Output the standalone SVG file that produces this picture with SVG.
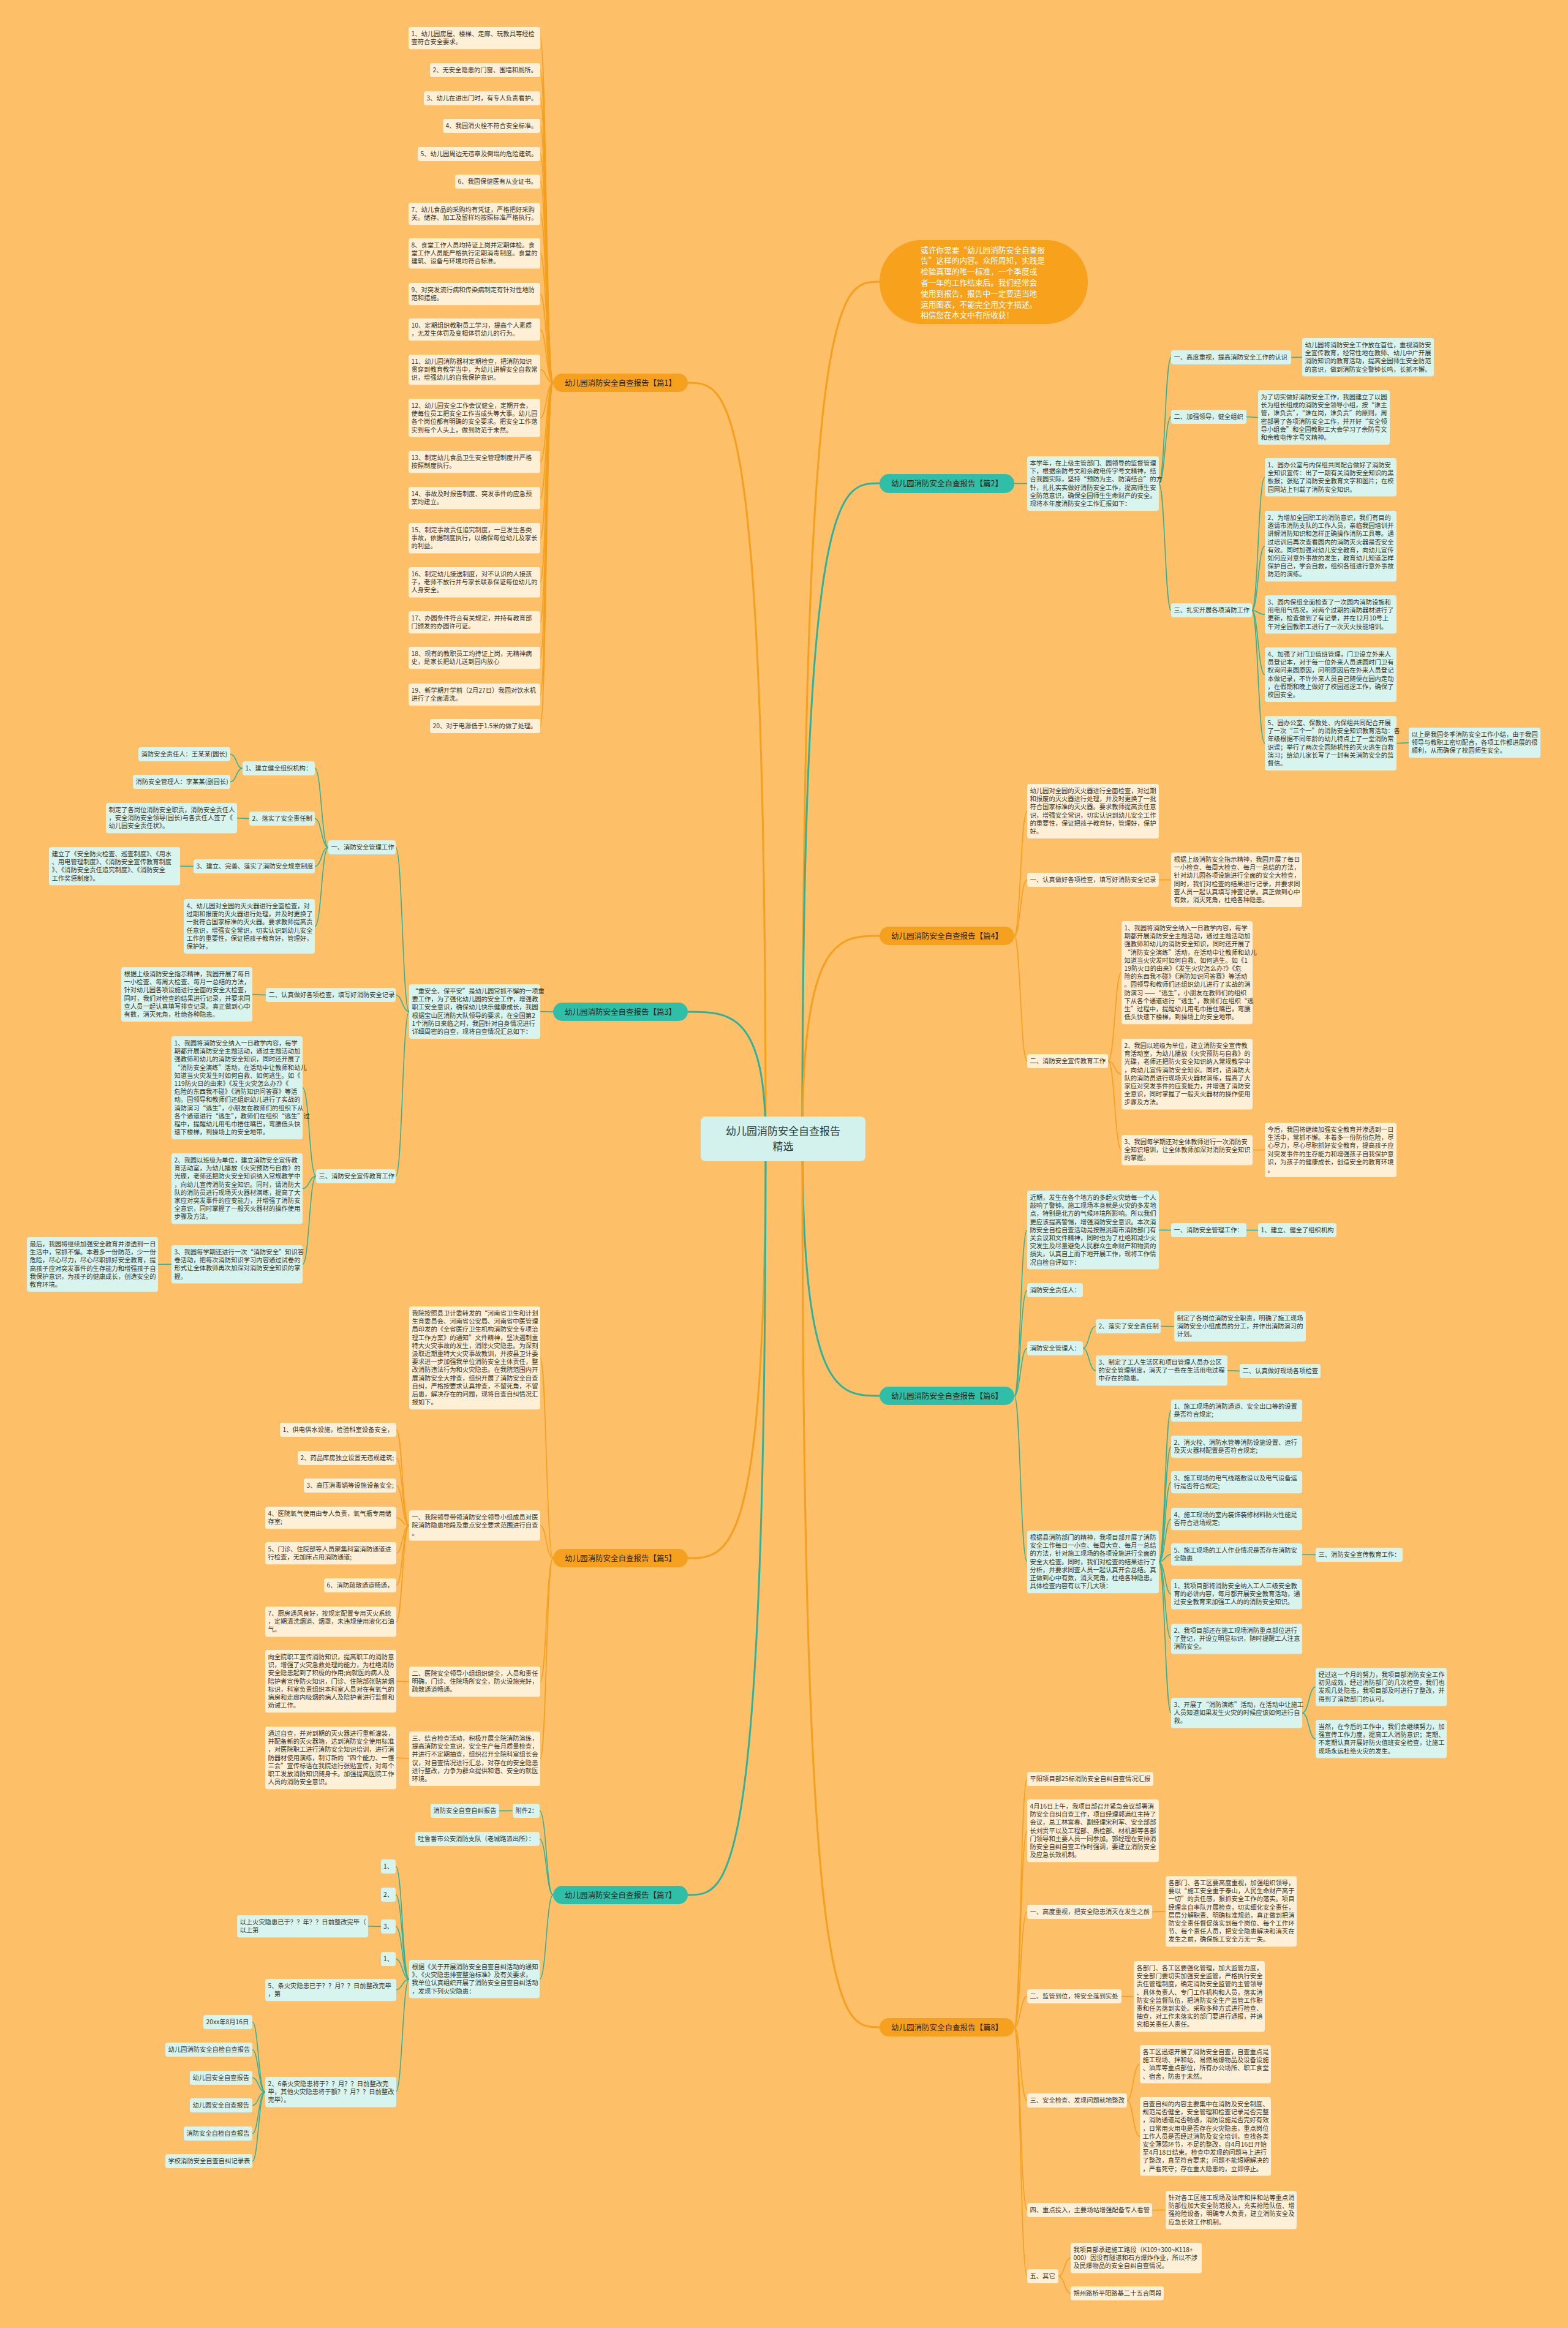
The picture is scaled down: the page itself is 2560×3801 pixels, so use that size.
<svg xmlns="http://www.w3.org/2000/svg" width="2560" height="3801" viewBox="0 0 2560 3801">
<style>
.t{font-family:"Noto Sans CJK SC","Noto Sans",sans-serif;font-size:10.3px;fill:#3b3327}
.lc{fill:#fdf0d6}
.lt{fill:#d8f4ef}
.po{fill:#f5a11f}
.pt{fill:#2fbfa8}
.pl{font-family:"Noto Sans CJK SC","Noto Sans",sans-serif;font-size:12.5px;fill:#2b2417;text-anchor:middle}
.co{fill:none;stroke:#f59f1c;stroke-width:1.6}
.ct{fill:none;stroke:#2db39c;stroke-width:1.6}
.mo{fill:none;stroke:#f59f1c;stroke-width:3}
.mt{fill:none;stroke:#2db39c;stroke-width:3}
</style>
<rect width="2560" height="3801" fill="#febf69"/>
<g id="connectors">
<!-- main -->
<path class="mo" d="M1250 1860 C1250 625,1190 625,1123 625"/>
<path class="mt" d="M1250 1860 C1250 1652,1190 1652,1123 1652"/>
<path class="mo" d="M1250 1860 C1250 2544,1190 2544,1123 2544"/>
<path class="mt" d="M1250 1860 C1250 3094,1190 3094,1123 3094"/>
<path class="mo" d="M1310 1860 C1310 460,1370 460,1436 460"/>
<path class="mt" d="M1310 1860 C1310 789,1370 789,1436 789"/>
<path class="mo" d="M1310 1860 C1310 1528,1370 1528,1436 1528"/>
<path class="mt" d="M1310 1860 C1310 2279,1370 2279,1436 2279"/>
<path class="mo" d="M1310 1860 C1310 3310,1370 3310,1436 3310"/>
<!-- p1 -->
<path class="co" d="M903 625 C892 625,892 62,882 62"/>
<path class="co" d="M903 625 C892 625,892 114.5,882 114.5"/>
<path class="co" d="M903 625 C892 625,892 160.5,882 160.5"/>
<path class="co" d="M903 625 C892 625,892 205.5,882 205.5"/>
<path class="co" d="M903 625 C892 625,892 251.5,882 251.5"/>
<path class="co" d="M903 625 C892 625,892 296.5,882 296.5"/>
<path class="co" d="M903 625 C892 625,892 349,882 349"/>
<path class="co" d="M903 625 C892 625,892 413.7,882 413.7"/>
<path class="co" d="M903 625 C892 625,892 480,882 480"/>
<path class="co" d="M903 625 C892 625,892 538,882 538"/>
<path class="co" d="M903 625 C892 625,892 603.7,882 603.7"/>
<path class="co" d="M903 625 C892 625,892 682.3,882 682.3"/>
<path class="co" d="M903 625 C892 625,892 754,882 754"/>
<path class="co" d="M903 625 C892 625,892 813,882 813"/>
<path class="co" d="M903 625 C892 625,892 878.7,882 878.7"/>
<path class="co" d="M903 625 C892 625,892 950.7,882 950.7"/>
<path class="co" d="M903 625 C892 625,892 1016,882 1016"/>
<path class="co" d="M903 625 C892 625,892 1074,882 1074"/>
<path class="co" d="M903 625 C892 625,892 1134,882 1134"/>
<path class="co" d="M903 625 C892 625,892 1185.5,882 1185.5"/>
<!-- p3 -->
<path class="ct" d="M903 1652 C892 1652,892 1651.5,882 1651.5"/>
<path class="ct" d="M668 1651.5 C657 1651.5,657 1383.5,646 1383.5"/>
<path class="ct" d="M668 1651.5 C657 1651.5,657 1624.5,646 1624.5"/>
<path class="ct" d="M668 1651.5 C657 1651.5,657 1920.5,646 1920.5"/>
<path class="ct" d="M536 1383.5 C525 1383.5,525 1254.5,514 1254.5"/>
<path class="ct" d="M536 1383.5 C525 1383.5,525 1336.5,514 1336.5"/>
<path class="ct" d="M536 1383.5 C525 1383.5,525 1414.5,514 1414.5"/>
<path class="ct" d="M536 1383.5 C525 1383.5,525 1512.5,514 1512.5"/>
<path class="ct" d="M396 1254.5 C386 1254.5,386 1231.5,376 1231.5"/>
<path class="ct" d="M396 1254.5 C386 1254.5,386 1276.5,376 1276.5"/>
<path class="ct" d="M407 1336.5 C397 1336.5,397 1335.7,387 1335.7"/>
<path class="ct" d="M316 1414.5 C305 1414.5,305 1414.3,294 1414.3"/>
<path class="ct" d="M434 1624.5 C423 1624.5,423 1623.5,412 1623.5"/>
<path class="ct" d="M516 1920.5 C505 1920.5,505 1776,494 1776"/>
<path class="ct" d="M516 1920.5 C505 1920.5,505 1940.7,494 1940.7"/>
<path class="ct" d="M516 1920.5 C505 1920.5,505 2064.3,494 2064.3"/>
<path class="ct" d="M280 2064.3 C269 2064.3,269 2064.5,258 2064.5"/>
<!-- p5 -->
<path class="co" d="M903 2544 C892 2544,892 2217,882 2217"/>
<path class="co" d="M903 2544 C892 2544,892 2490.7,882 2490.7"/>
<path class="co" d="M903 2544 C892 2544,892 2745.7,882 2745.7"/>
<path class="co" d="M903 2544 C892 2544,892 2871.5,882 2871.5"/>
<path class="co" d="M668 2490.7 C657 2490.7,657 2334.5,647 2334.5"/>
<path class="co" d="M668 2490.7 C657 2490.7,657 2380.5,647 2380.5"/>
<path class="co" d="M668 2490.7 C657 2490.7,657 2425.5,647 2425.5"/>
<path class="co" d="M668 2490.7 C657 2490.7,657 2478,647 2478"/>
<path class="co" d="M668 2490.7 C657 2490.7,657 2536,647 2536"/>
<path class="co" d="M668 2490.7 C657 2490.7,657 2588.5,647 2588.5"/>
<path class="co" d="M668 2490.7 C657 2490.7,657 2647.7,647 2647.7"/>
<path class="co" d="M668 2745.7 C657 2745.7,657 2745,647 2745"/>
<path class="co" d="M668 2871.5 C657 2871.5,657 2870,647 2870"/>
<!-- p7 -->
<path class="ct" d="M903 3094 C892 3094,892 2956.5,881 2956.5"/>
<path class="ct" d="M903 3094 C892 3094,892 3002.5,881 3002.5"/>
<path class="ct" d="M903 3094 C892 3094,892 3231.3,881 3231.3"/>
<path class="ct" d="M837 2956.5 C826 2956.5,826 2956.5,815 2956.5"/>
<path class="ct" d="M668 3231.3 C657 3231.3,657 3047.5,646 3047.5"/>
<path class="ct" d="M668 3231.3 C657 3231.3,657 3093.5,646 3093.5"/>
<path class="ct" d="M668 3231.3 C657 3231.3,657 3145.5,646 3145.5"/>
<path class="ct" d="M668 3231.3 C657 3231.3,657 3198.5,646 3198.5"/>
<path class="ct" d="M668 3231.3 C657 3231.3,657 3249,646 3249"/>
<path class="ct" d="M668 3231.3 C657 3231.3,657 3415.7,646 3415.7"/>
<path class="ct" d="M622 3145.5 C611 3145.5,611 3145,601 3145"/>
<path class="ct" d="M433 3415.7 C422 3415.7,422 3301.5,412 3301.5"/>
<path class="ct" d="M433 3415.7 C422 3415.7,422 3346.5,412 3346.5"/>
<path class="ct" d="M433 3415.7 C422 3415.7,422 3392.5,412 3392.5"/>
<path class="ct" d="M433 3415.7 C422 3415.7,422 3437.5,412 3437.5"/>
<path class="ct" d="M433 3415.7 C422 3415.7,422 3483.5,412 3483.5"/>
<path class="ct" d="M433 3415.7 C422 3415.7,422 3528.5,412 3528.5"/>
<!-- p2 -->
<path class="ct" d="M1656 789.5 C1666 789.5,1666 789.5,1677 789.5"/>
<path class="ct" d="M1892 789.5 C1902 789.5,1902 583.5,1912 583.5"/>
<path class="ct" d="M1892 789.5 C1902 789.5,1902 680.5,1912 680.5"/>
<path class="ct" d="M1892 789.5 C1902 789.5,1902 996.5,1912 996.5"/>
<path class="ct" d="M2108 583.5 C2117 583.5,2117 583.3,2126 583.3"/>
<path class="ct" d="M2035 680.5 C2044 680.5,2044 681.5,2054 681.5"/>
<path class="ct" d="M2044 996.5 C2054 996.5,2054 779.3,2065 779.3"/>
<path class="ct" d="M2044 996.5 C2054 996.5,2054 891.7,2065 891.7"/>
<path class="ct" d="M2044 996.5 C2054 996.5,2054 1003.3,2065 1003.3"/>
<path class="ct" d="M2044 996.5 C2054 996.5,2054 1101.5,2065 1101.5"/>
<path class="ct" d="M2044 996.5 C2054 996.5,2054 1213.5,2065 1213.5"/>
<path class="ct" d="M2280 1213.5 C2290 1213.5,2290 1212.7,2300 1212.7"/>
<!-- p4 -->
<path class="co" d="M1656 1528 C1666 1528,1666 1324.5,1677 1324.5"/>
<path class="co" d="M1656 1528 C1666 1528,1666 1436.5,1677 1436.5"/>
<path class="co" d="M1656 1528 C1666 1528,1666 1732.5,1677 1732.5"/>
<path class="co" d="M1892 1436.5 C1902 1436.5,1902 1436.5,1912 1436.5"/>
<path class="co" d="M1809 1732.5 C1820 1732.5,1820 1588,1831 1588"/>
<path class="co" d="M1809 1732.5 C1820 1732.5,1820 1753.7,1831 1753.7"/>
<path class="co" d="M1809 1732.5 C1820 1732.5,1820 1877.7,1831 1877.7"/>
<path class="co" d="M2045 1877.7 C2055 1877.7,2055 1877.5,2065 1877.5"/>
<!-- p6 -->
<path class="ct" d="M1656 2279 C1666 2279,1666 2008.3,1677 2008.3"/>
<path class="ct" d="M1656 2279 C1666 2279,1666 2106.5,1677 2106.5"/>
<path class="ct" d="M1656 2279 C1666 2279,1666 2201.5,1677 2201.5"/>
<path class="ct" d="M1656 2279 C1666 2279,1666 2550,1677 2550"/>
<path class="ct" d="M1892 2008.3 C1902 2008.3,1902 2008.5,1912 2008.5"/>
<path class="ct" d="M2035 2008.5 C2044 2008.5,2044 2008.5,2054 2008.5"/>
<path class="ct" d="M1768 2201.5 C1778 2201.5,1778 2165.5,1789 2165.5"/>
<path class="ct" d="M1768 2201.5 C1778 2201.5,1778 2237.7,1789 2237.7"/>
<path class="ct" d="M1895 2165.5 C1906 2165.5,1906 2165.7,1917 2165.7"/>
<path class="ct" d="M2004 2237.7 C2014 2237.7,2014 2238.5,2024 2238.5"/>
<path class="ct" d="M1892 2550 C1902 2550,1902 2303,1912 2303"/>
<path class="ct" d="M1892 2550 C1902 2550,1902 2362,1912 2362"/>
<path class="ct" d="M1892 2550 C1902 2550,1902 2420,1912 2420"/>
<path class="ct" d="M1892 2550 C1902 2550,1902 2480,1912 2480"/>
<path class="ct" d="M1892 2550 C1902 2550,1902 2538,1912 2538"/>
<path class="ct" d="M1892 2550 C1902 2550,1902 2602.7,1912 2602.7"/>
<path class="ct" d="M1892 2550 C1902 2550,1902 2675.7,1912 2675.7"/>
<path class="ct" d="M1892 2550 C1902 2550,1902 2796.7,1912 2796.7"/>
<path class="ct" d="M2126 2538 C2137 2538,2137 2538.5,2148 2538.5"/>
<path class="ct" d="M2126 2796.7 C2137 2796.7,2137 2754.3,2148 2754.3"/>
<path class="ct" d="M2126 2796.7 C2137 2796.7,2137 2839.3,2148 2839.3"/>
<!-- p8 -->
<path class="co" d="M1656 3310 C1666 3310,1666 2904.5,1677 2904.5"/>
<path class="co" d="M1656 3310 C1666 3310,1666 2989,1677 2989"/>
<path class="co" d="M1656 3310 C1666 3310,1666 3121.5,1677 3121.5"/>
<path class="co" d="M1656 3310 C1666 3310,1666 3259.5,1677 3259.5"/>
<path class="co" d="M1656 3310 C1666 3310,1666 3429.5,1677 3429.5"/>
<path class="co" d="M1656 3310 C1666 3310,1666 3608.5,1677 3608.5"/>
<path class="co" d="M1656 3310 C1666 3310,1666 3716.5,1677 3716.5"/>
<path class="co" d="M1881 3121.5 C1892 3121.5,1892 3120.7,1903 3120.7"/>
<path class="co" d="M1831 3259.5 C1841 3259.5,1841 3259.7,1851 3259.7"/>
<path class="co" d="M1840 3429.5 C1850 3429.5,1850 3370.3,1861 3370.3"/>
<path class="co" d="M1840 3429.5 C1850 3429.5,1850 3488.3,1861 3488.3"/>
<path class="co" d="M1881 3608.5 C1892 3608.5,1892 3608.3,1903 3608.3"/>
<path class="co" d="M1728 3716.5 C1738 3716.5,1738 3686.7,1748 3686.7"/>
<path class="co" d="M1728 3716.5 C1738 3716.5,1738 3744.5,1748 3744.5"/>
</g>

<g id="center"><rect x="1144" y="1823" width="269" height="73" rx="8" fill="#d3f2ee"/>
<text x="1278.5" y="1853" font-family="Noto Sans CJK SC,sans-serif" font-size="17" fill="#2b3a38" text-anchor="middle">幼儿园消防安全自查报告</text>
<text x="1278.5" y="1878" font-family="Noto Sans CJK SC,sans-serif" font-size="17" fill="#2b3a38" text-anchor="middle">精选</text></g>

<!-- ===== 篇1 ===== -->
<g id="p1"><rect class="po" x="903" y="610" width="220" height="30" rx="15"/><text class="pl" x="1013" y="629.5">幼儿园消防安全自查报告【篇1】</text></g>
<g id="p1-1"><rect class="lc" x="667" y="44" width="215" height="36.2" rx="4"/><text class="t" y="59"><tspan x="671.5">1、幼儿园房屋、楼梯、走廊、玩教具等经检</tspan><tspan x="671.5" dy="13.2">查符合安全要求。</tspan></text></g>
<g id="p1-2"><rect class="lc" x="702" y="103" width="180" height="23" rx="4"/><text class="t" x="706.5" y="118.3">2、无安全隐患的门窗、围墙和厕所。</text></g>
<g id="p1-3"><rect class="lc" x="692" y="149" width="190" height="23" rx="4"/><text class="t" x="696.5" y="164.3">3、幼儿在进出门时，有专人负责看护。</text></g>
<g id="p1-4"><rect class="lc" x="723" y="194" width="159" height="23" rx="4"/><text class="t" x="727.5" y="209.3">4、我园消火栓不符合安全标准。</text></g>
<g id="p1-5"><rect class="lc" x="682" y="240" width="200" height="23" rx="4"/><text class="t" x="686.5" y="255.3">5、幼儿园周边无违章及倒塌的危险建筑。</text></g>
<g id="p1-6"><rect class="lc" x="743" y="285" width="139" height="23" rx="4"/><text class="t" x="747.5" y="300.3">6、我园保健医有从业证书。</text></g>
<g id="p1-7"><rect class="lc" x="667" y="331" width="215" height="36.2" rx="4"/><text class="t" y="346"><tspan x="671.5">7、幼儿食品的采购均有凭证，严格把好采购</tspan><tspan x="671.5" dy="13.2">关。储存、加工及留样均按照标准严格执行。</tspan></text></g>
<g id="p1-8"><rect class="lc" x="667" y="389" width="215" height="49.4" rx="4"/><text class="t" y="404"><tspan x="671.5">8、食堂工作人员均持证上岗并定期体检。食</tspan><tspan x="671.5" dy="13.2">堂工作人员能严格执行定期消毒制度。食堂的</tspan><tspan x="671.5" dy="13.2">建筑、设备与环境均符合标准。</tspan></text></g>
<g id="p1-9"><rect class="lc" x="667" y="462" width="215" height="36.2" rx="4"/><text class="t" y="477"><tspan x="671.5">9、对突发流行病和传染病制定有针对性地防</tspan><tspan x="671.5" dy="13.2">范和措施。</tspan></text></g>
<g id="p1-10"><rect class="lc" x="667" y="520" width="215" height="36.2" rx="4"/><text class="t" y="535"><tspan x="671.5">10、定期组织教职员工学习，提高个人素质</tspan><tspan x="671.5" dy="13.2">，无发生体罚及变相体罚幼儿的行为。</tspan></text></g>
<g id="p1-11"><rect class="lc" x="667" y="579" width="215" height="49.4" rx="4"/><text class="t" y="594"><tspan x="671.5">11、幼儿园消防器材定期检查，把消防知识</tspan><tspan x="671.5" dy="13.2">贯穿到教育教学当中，为幼儿讲解安全自救常</tspan><tspan x="671.5" dy="13.2">识，增强幼儿的自我保护意识。</tspan></text></g>
<g id="p1-12"><rect class="lc" x="667" y="651" width="215" height="62.6" rx="4"/><text class="t" y="666"><tspan x="671.5">12、幼儿园安全工作会议健全，定期开会，</tspan><tspan x="671.5" dy="13.2">使每位员工把安全工作当成头等大事。幼儿园</tspan><tspan x="671.5" dy="13.2">各个岗位都有明确的安全要求。把安全工作落</tspan><tspan x="671.5" dy="13.2">实到每个人头上，做到防范于未然。</tspan></text></g>
<g id="p1-13"><rect class="lc" x="667" y="736" width="215" height="36.2" rx="4"/><text class="t" y="751"><tspan x="671.5">13、制定幼儿食品卫生安全管理制度并严格</tspan><tspan x="671.5" dy="13.2">按照制度执行。</tspan></text></g>
<g id="p1-14"><rect class="lc" x="667" y="795" width="215" height="36.2" rx="4"/><text class="t" y="810"><tspan x="671.5">14、事故及时报告制度、突发事件的应急预</tspan><tspan x="671.5" dy="13.2">案均建立。</tspan></text></g>
<g id="p1-15"><rect class="lc" x="667" y="854" width="215" height="49.4" rx="4"/><text class="t" y="869"><tspan x="671.5">15、制定事故责任追究制度，一旦发生各类</tspan><tspan x="671.5" dy="13.2">事故，依据制度执行，以确保每位幼儿及家长</tspan><tspan x="671.5" dy="13.2">的利益。</tspan></text></g>
<g id="p1-16"><rect class="lc" x="667" y="926" width="215" height="49.4" rx="4"/><text class="t" y="941"><tspan x="671.5">16、制定幼儿接送制度，对不认识的人接孩</tspan><tspan x="671.5" dy="13.2">子，老师不放行并与家长联系保证每位幼儿的</tspan><tspan x="671.5" dy="13.2">人身安全。</tspan></text></g>
<g id="p1-17"><rect class="lc" x="667" y="998" width="215" height="36.2" rx="4"/><text class="t" y="1013"><tspan x="671.5">17、办园条件符合有关规定，并持有教育部</tspan><tspan x="671.5" dy="13.2">门颁发的办园许可证。</tspan></text></g>
<g id="p1-18"><rect class="lc" x="667" y="1056" width="215" height="36.2" rx="4"/><text class="t" y="1071"><tspan x="671.5">18、现有的教职员工均持证上岗，无精神病</tspan><tspan x="671.5" dy="13.2">史，是家长把幼儿送到园内放心</tspan></text></g>
<g id="p1-19"><rect class="lc" x="667" y="1116" width="215" height="36.2" rx="4"/><text class="t" y="1131"><tspan x="671.5">19、新学期开学前（2月27日）我园对饮水机</tspan><tspan x="671.5" dy="13.2">进行了全面清洗。</tspan></text></g>
<g id="p1-20"><rect class="lc" x="702" y="1174" width="180" height="23" rx="4"/><text class="t" x="706.5" y="1189.3">20、对于电源低于1.5米的做了处理。</text></g>

<!-- ===== 篇3 ===== -->
<g id="p3"><rect class="pt" x="903" y="1637" width="220" height="30" rx="15"/><text class="pl" x="1013" y="1656.5">幼儿园消防安全自查报告【篇3】</text></g>
<g id="p3-intro"><rect class="lt" x="668" y="1607" width="214" height="89" rx="4"/><text class="t" y="1622"><tspan x="672.5">“重安全、保平安”是幼儿园常抓不懈的一项重</tspan><tspan x="672.5" dy="13.2">要工作，为了强化幼儿园的安全工作，增强教</tspan><tspan x="672.5" dy="13.2">职工安全意识，确保幼儿快乐健康成长，我园</tspan><tspan x="672.5" dy="13.2">根据宝山区消防大队领导的要求，在全国第2</tspan><tspan x="672.5" dy="13.2">1个消防日来临之时，我园针对自身情况进行</tspan><tspan x="672.5" dy="13.2">详细周密的自查，现将自查情况汇总如下：</tspan></text></g>
<g id="p3-s1"><rect class="lt" x="536" y="1372" width="110" height="23" rx="4"/><text class="t" x="540.5" y="1387.3">一、消防安全管理工作</text></g>
<g id="p3-s1-1"><rect class="lt" x="396" y="1243" width="118" height="23" rx="4"/><text class="t" x="400.5" y="1258.3">1、建立健全组织机构：</text></g>
<g id="p3-s1-1a"><rect class="lt" x="226" y="1220" width="150" height="23" rx="4"/><text class="t" x="230.5" y="1235.3">消防安全责任人：王某某(园长)</text></g>
<g id="p3-s1-1b"><rect class="lt" x="217" y="1265" width="159" height="23" rx="4"/><text class="t" x="221.5" y="1280.3">消防安全管理人：李某某(副园长)</text></g>
<g id="p3-s1-2"><rect class="lt" x="407" y="1325" width="107" height="23" rx="4"/><text class="t" x="411.5" y="1340.3">2、落实了安全责任制</text></g>
<g id="p3-s1-2a"><rect class="lt" x="173" y="1311" width="214" height="49.4" rx="4"/><text class="t" y="1326"><tspan x="177.5">制定了各岗位消防安全职责，消防安全责任人</tspan><tspan x="177.5" dy="13.2">，安全消防安全领导(园长)与各责任人签了《</tspan><tspan x="177.5" dy="13.2">幼儿园安全责任状》。</tspan></text></g>
<g id="p3-s1-3"><rect class="lt" x="316" y="1403" width="198" height="23" rx="4"/><text class="t" x="320.5" y="1418.3">3、建立、完善、落实了消防安全规章制度</text></g>
<g id="p3-s1-3a"><rect class="lt" x="80" y="1383" width="214" height="62.6" rx="4"/><text class="t" y="1398"><tspan x="84.5">建立了《安全防火检查、巡查制度》、《用水</tspan><tspan x="84.5" dy="13.2">、用电管理制度》、《消防安全宣传教育制度</tspan><tspan x="84.5" dy="13.2">》、《消防安全责任追究制度》、《消防安全</tspan><tspan x="84.5" dy="13.2">工作奖惩制度》。</tspan></text></g>
<g id="p3-s1-4"><rect class="lt" x="300" y="1468" width="214" height="89" rx="4"/><text class="t" y="1483"><tspan x="304.5">4、幼儿园对全园的灭火器进行全面检查，对</tspan><tspan x="304.5" dy="13.2">过期和报废的灭火器进行处理，并及时更换了</tspan><tspan x="304.5" dy="13.2">一批符合国家标准的灭火器。要求教师提高责</tspan><tspan x="304.5" dy="13.2">任意识，增强安全常识，切实认识到幼儿安全</tspan><tspan x="304.5" dy="13.2">工作的重要性，保证把孩子教育好，管理好，</tspan><tspan x="304.5" dy="13.2">保护好。</tspan></text></g>
<g id="p3-s2"><rect class="lt" x="434" y="1613" width="212" height="23" rx="4"/><text class="t" x="438.5" y="1628.3">二、认真做好各项检查，填写好消防安全记录</text></g>
<g id="p3-s2a"><rect class="lt" x="198" y="1579" width="214" height="89" rx="4"/><text class="t" y="1594"><tspan x="202.5">根据上级消防安全指示精神，我园开展了每日</tspan><tspan x="202.5" dy="13.2">一小检查、每周大检查、每月一总结的方法，</tspan><tspan x="202.5" dy="13.2">针对幼儿园各项设施进行全面的安全大检查，</tspan><tspan x="202.5" dy="13.2">同时，我们对检查的结果进行记录，并要求同</tspan><tspan x="202.5" dy="13.2">查人员一起认真填写排查记录。真正做到心中</tspan><tspan x="202.5" dy="13.2">有数，消灭死角，杜绝各种隐患。</tspan></text></g>
<g id="p3-s3"><rect class="lt" x="516" y="1909" width="130" height="23" rx="4"/><text class="t" x="520.5" y="1924.3">三、消防安全宣传教育工作</text></g>
<g id="p3-s3-1"><rect class="lt" x="280" y="1692" width="214" height="168.2" rx="4"/><text class="t" y="1707"><tspan x="284.5">1、我园将消防安全纳入一日教学内容，每学</tspan><tspan x="284.5" dy="13.2">期都开展消防安全主题活动，通过主题活动加</tspan><tspan x="284.5" dy="13.2">强教师和幼儿的消防安全知识，同时还开展了</tspan><tspan x="284.5" dy="13.2">“消防安全演练”活动，在活动中让教师和幼儿</tspan><tspan x="284.5" dy="13.2">知道当火灾发生时如何自救、如何逃生。如《</tspan><tspan x="284.5" dy="13.2">119防火日的由来》《发生火灾怎么办?》《</tspan><tspan x="284.5" dy="13.2">危险的东西我不碰》《消防知识问答赛》等活</tspan><tspan x="284.5" dy="13.2">动。园领导和教师们还组织幼儿进行了实战的</tspan><tspan x="284.5" dy="13.2">消防演习“逃生”，小朋友在教师们的组织下从</tspan><tspan x="284.5" dy="13.2">各个通道进行“逃生”，教师们在组织“逃生”过</tspan><tspan x="284.5" dy="13.2">程中，提醒幼儿用毛巾捂住嘴巴，弯腰低头快</tspan><tspan x="284.5" dy="13.2">速下楼梯，到操场上的安全地带。</tspan></text></g>
<g id="p3-s3-2"><rect class="lt" x="280" y="1883" width="214" height="115.4" rx="4"/><text class="t" y="1898"><tspan x="284.5">2、我园以班级为单位，建立消防安全宣传教</tspan><tspan x="284.5" dy="13.2">育活动室，为幼儿播放《火灾预防与自救》的</tspan><tspan x="284.5" dy="13.2">光碟，老师还把防火安全知识纳入常规教学中</tspan><tspan x="284.5" dy="13.2">，向幼儿宣传消防安全知识。同时，请消防大</tspan><tspan x="284.5" dy="13.2">队的消防员进行现场灭火器材演练，提高了大</tspan><tspan x="284.5" dy="13.2">家应对突发事件的应变能力，并增强了消防安</tspan><tspan x="284.5" dy="13.2">全意识，同时掌握了一般灭火器材的操作使用</tspan><tspan x="284.5" dy="13.2">步骤及方法。</tspan></text></g>
<g id="p3-s3-3"><rect class="lt" x="280" y="2033" width="214" height="62.6" rx="4"/><text class="t" y="2048"><tspan x="284.5">3、我园每学期还进行一次“消防安全”知识答</tspan><tspan x="284.5" dy="13.2">卷活动，把每次消防知识学习内容通过试卷的</tspan><tspan x="284.5" dy="13.2">形式让全体教师再次加深对消防安全知识的掌</tspan><tspan x="284.5" dy="13.2">握。</tspan></text></g>
<g id="p3-s3-3a"><rect class="lt" x="44" y="2020" width="214" height="89" rx="4"/><text class="t" y="2035"><tspan x="48.5">最后，我园将继续加强安全教育并渗透到一日</tspan><tspan x="48.5" dy="13.2">生活中，常抓不懈。本着多一份防范，少一份</tspan><tspan x="48.5" dy="13.2">危险，尽心尽力，尽心尽职抓好安全教育，提</tspan><tspan x="48.5" dy="13.2">高孩子应对突发事件的生存能力和增强孩子自</tspan><tspan x="48.5" dy="13.2">我保护意识，为孩子的健康成长，创造安全的</tspan><tspan x="48.5" dy="13.2">教育环境。</tspan></text></g>

<!-- ===== 篇5 ===== -->
<g id="p5"><rect class="po" x="903" y="2529" width="220" height="30" rx="15"/><text class="pl" x="1013" y="2548.5">幼儿园消防安全自查报告【篇5】</text></g>
<g id="p5-intro"><rect class="lc" x="668" y="2133" width="214" height="168.2" rx="4"/><text class="t" y="2148"><tspan x="672.5">我院按照县卫计委转发的“河南省卫生和计划</tspan><tspan x="672.5" dy="13.2">生育委员会、河南省公安局、河南省中医管理</tspan><tspan x="672.5" dy="13.2">局印发的《全省医疗卫生机构消防安全专项治</tspan><tspan x="672.5" dy="13.2">理工作方案》的通知”文件精神，坚决遏制重</tspan><tspan x="672.5" dy="13.2">特大火灾事故的发生，消除火灾隐患。为深刻</tspan><tspan x="672.5" dy="13.2">汲取近期重特大火灾事故教训，并按县卫计委</tspan><tspan x="672.5" dy="13.2">要求进一步加强我单位消防安全主体责任，整</tspan><tspan x="672.5" dy="13.2">改消防违法行为和火灾隐患。在我院范围内开</tspan><tspan x="672.5" dy="13.2">展消防安全大排查，组织开展了消防安全自查</tspan><tspan x="672.5" dy="13.2">自纠，严格按要求认真排查，不留死角，不留</tspan><tspan x="672.5" dy="13.2">后患，解决存在的问题，现将自查自纠情况汇</tspan><tspan x="672.5" dy="13.2">报如下。</tspan></text></g>
<g id="p5-s1"><rect class="lc" x="668" y="2466" width="214" height="49.4" rx="4"/><text class="t" y="2481"><tspan x="672.5">一、我院领导带领消防安全领导小组成员对医</tspan><tspan x="672.5" dy="13.2">院消防隐患地段及重点安全要求范围进行自查</tspan><tspan x="672.5" dy="13.2">。</tspan></text></g>
<g id="p5-s1-1"><rect class="lc" x="457" y="2323" width="190" height="23" rx="4"/><text class="t" x="461.5" y="2338.3">1、供电供水设施，检验科室设备安全，</text></g>
<g id="p5-s1-2"><rect class="lc" x="486" y="2369" width="161" height="23" rx="4"/><text class="t" x="490.5" y="2384.3">2、药品库房独立设置无违规建筑;</text></g>
<g id="p5-s1-3"><rect class="lc" x="496" y="2414" width="151" height="23" rx="4"/><text class="t" x="500.5" y="2429.3">3、高压消毒锅等设施设备安全;</text></g>
<g id="p5-s1-4"><rect class="lc" x="433" y="2460" width="214" height="36.2" rx="4"/><text class="t" y="2475"><tspan x="437.5">4、医院氧气使用由专人负责，氧气瓶专用储</tspan><tspan x="437.5" dy="13.2">存室;</tspan></text></g>
<g id="p5-s1-5"><rect class="lc" x="433" y="2518" width="214" height="36.2" rx="4"/><text class="t" y="2533"><tspan x="437.5">5、门诊、住院部等人员聚集科室消防通道进</tspan><tspan x="437.5" dy="13.2">行检查，无加床占用消防通道;</tspan></text></g>
<g id="p5-s1-6"><rect class="lc" x="529" y="2577" width="118" height="23" rx="4"/><text class="t" x="533.5" y="2592.3">6、消防疏散通道畅通，</text></g>
<g id="p5-s1-7"><rect class="lc" x="433" y="2623" width="214" height="49.4" rx="4"/><text class="t" y="2638"><tspan x="437.5">7、厨房通风良好，按规定配置专用灭火系统</tspan><tspan x="437.5" dy="13.2">，定期清洗烟道、烟罩，未违规使用液化石油</tspan><tspan x="437.5" dy="13.2">气。</tspan></text></g>
<g id="p5-s2"><rect class="lc" x="668" y="2721" width="214" height="49.4" rx="4"/><text class="t" y="2736"><tspan x="672.5">二、医院安全领导小组组织健全，人员和责任</tspan><tspan x="672.5" dy="13.2">明确，门诊、住院场所安全，防火设施完好，</tspan><tspan x="672.5" dy="13.2">疏散通道畅通。</tspan></text></g>
<g id="p5-s2a"><rect class="lc" x="433" y="2694" width="214" height="102.2" rx="4"/><text class="t" y="2709"><tspan x="437.5">向全院职工宣传消防知识，提高职工的消防意</tspan><tspan x="437.5" dy="13.2">识，增强了火灾急救处理的能力，为杜绝消防</tspan><tspan x="437.5" dy="13.2">安全隐患起到了积极的作用;向就医的病人及</tspan><tspan x="437.5" dy="13.2">陪护者宣传防火知识，门诊、住院部张贴禁烟</tspan><tspan x="437.5" dy="13.2">标识，科室负责组织本科室人员对在有氧气的</tspan><tspan x="437.5" dy="13.2">病房和走廊内吸烟的病人及陪护者进行监督和</tspan><tspan x="437.5" dy="13.2">劝诫工作。</tspan></text></g>
<g id="p5-s3"><rect class="lc" x="668" y="2827" width="214" height="89" rx="4"/><text class="t" y="2842"><tspan x="672.5">三、结合检查活动，积极开展全院消防演练，</tspan><tspan x="672.5" dy="13.2">提高消防安全意识，安全生产每月质量检查，</tspan><tspan x="672.5" dy="13.2">并进行不定期抽查，组织召开全院科室组长会</tspan><tspan x="672.5" dy="13.2">议，对自查情况进行汇总，对存在的安全隐患</tspan><tspan x="672.5" dy="13.2">进行整改，力争为群众提供和谐、安全的就医</tspan><tspan x="672.5" dy="13.2">环境。</tspan></text></g>
<g id="p5-s3a"><rect class="lc" x="433" y="2819" width="214" height="102.2" rx="4"/><text class="t" y="2834"><tspan x="437.5">通过自查，并对到期的灭火器进行重新灌装，</tspan><tspan x="437.5" dy="13.2">并配备新的灭火器箱，达到消防安全使用标准</tspan><tspan x="437.5" dy="13.2">，对医院职工进行消防安全知识培训，进行消</tspan><tspan x="437.5" dy="13.2">防器材使用演练，制订新的“四个能力、一懂</tspan><tspan x="437.5" dy="13.2">三会”宣传标语在我院进行张贴宣传，对每个</tspan><tspan x="437.5" dy="13.2">职工发放消防知识随身卡。加强提高医院工作</tspan><tspan x="437.5" dy="13.2">人员的消防安全意识。</tspan></text></g>

<!-- ===== 篇7 ===== -->
<g id="p7"><rect class="pt" x="903" y="3079" width="220" height="30" rx="15"/><text class="pl" x="1013" y="3098.5">幼儿园消防安全自查报告【篇7】</text></g>
<g id="p7-a"><rect class="lt" x="837" y="2945" width="44" height="23" rx="4"/><text class="t" x="841.5" y="2960.3">附件2：</text></g>
<g id="p7-a1"><rect class="lt" x="703" y="2945" width="112" height="23" rx="4"/><text class="t" x="707.5" y="2960.3">消防安全自查自纠报告</text></g>
<g id="p7-b"><rect class="lt" x="678" y="2991" width="203" height="23" rx="4"/><text class="t" x="682.5" y="3006.3">吐鲁番市公安消防支队（老城路派出所）：</text></g>
<g id="p7-c"><rect class="lt" x="668" y="3200" width="213" height="62.6" rx="4"/><text class="t" y="3215"><tspan x="672.5">根据《关于开展消防安全自查自纠活动的通知</tspan><tspan x="672.5" dy="13.2">》、《火灾隐患排查整治标准》及有关要求，</tspan><tspan x="672.5" dy="13.2">我单位认真组织开展了消防安全自查自纠活动</tspan><tspan x="672.5" dy="13.2">，发现下列火灾隐患：</tspan></text></g>
<g id="p7-c1"><rect class="lt" x="622" y="3036" width="24" height="23" rx="4"/><text class="t" x="626" y="3051.3">1、</text></g>
<g id="p7-c2"><rect class="lt" x="622" y="3082" width="24" height="23" rx="4"/><text class="t" x="626" y="3097.3">2、</text></g>
<g id="p7-c3"><rect class="lt" x="622" y="3134" width="24" height="23" rx="4"/><text class="t" x="626" y="3149.3">3、</text></g>
<g id="p7-c3a"><rect class="lt" x="387" y="3127" width="214" height="36.2" rx="4"/><text class="t" y="3142"><tspan x="391.5">以上火灾隐患已于？？年？？日前整改完毕（</tspan><tspan x="391.5" dy="13.2">以上第</tspan></text></g>
<g id="p7-c4"><rect class="lt" x="622" y="3187" width="24" height="23" rx="4"/><text class="t" x="626" y="3202.3">1、</text></g>
<g id="p7-c5"><rect class="lt" x="433" y="3231" width="214" height="36.2" rx="4"/><text class="t" y="3246"><tspan x="437.5">5、条火灾隐患已于？？月？？日前整改完毕</tspan><tspan x="437.5" dy="13.2">，第</tspan></text></g>
<g id="p7-c6"><rect class="lt" x="433" y="3391" width="214" height="49.4" rx="4"/><text class="t" y="3406"><tspan x="437.5">2、6条火灾隐患将于？？月？？日前整改完</tspan><tspan x="437.5" dy="13.2">毕，其他火灾隐患将于额？？月？？日前整改</tspan><tspan x="437.5" dy="13.2">完毕）。</tspan></text></g>
<g id="p7-d1"><rect class="lt" x="332" y="3290" width="80" height="23" rx="4"/><text class="t" x="336.5" y="3305.3">20xx年8月16日</text></g>
<g id="p7-d2"><rect class="lt" x="270" y="3335" width="142" height="23" rx="4"/><text class="t" x="274.5" y="3350.3">幼儿园消防安全自检自查报告</text></g>
<g id="p7-d3"><rect class="lt" x="310" y="3381" width="102" height="23" rx="4"/><text class="t" x="314.5" y="3396.3">幼儿园安全自查报告</text></g>
<g id="p7-d4"><rect class="lt" x="310" y="3426" width="102" height="23" rx="4"/><text class="t" x="314.5" y="3441.3">幼儿园安全自查报告</text></g>
<g id="p7-d5"><rect class="lt" x="300" y="3472" width="112" height="23" rx="4"/><text class="t" x="304.5" y="3487.3">消防安全自检自查报告</text></g>
<g id="p7-d6"><rect class="lt" x="270" y="3517" width="142" height="23" rx="4"/><text class="t" x="274.5" y="3532.3">学校消防安全自查自纠记录表</text></g>

<!-- ===== intro blob ===== -->
<g id="intro"><rect x="1436" y="392" width="340" height="137" rx="68" fill="#f7a11c"/><text font-family="Noto Sans CJK SC,sans-serif" font-size="12.7" fill="#ffffff" y="412.5"><tspan x="1503">或许你需要“幼儿园消防安全自查报</tspan><tspan x="1503" dy="17.8">告”这样的内容。众所周知，实践是</tspan><tspan x="1503" dy="17.8">检验真理的唯一标准，一个季度或</tspan><tspan x="1503" dy="17.8">者一年的工作结束后。我们经常会</tspan><tspan x="1503" dy="17.8">使用到报告，报告中一定要适当地</tspan><tspan x="1503" dy="17.8">运用图表，不能完全用文字描述。</tspan><tspan x="1503" dy="17.8">相信您在本文中有所收获！</tspan></text></g>

<!-- ===== 篇2 ===== -->
<g id="p2"><rect class="pt" x="1436" y="774" width="220" height="31" rx="15"/><text class="pl" x="1546" y="794">幼儿园消防安全自查报告【篇2】</text></g>
<g id="p2-intro"><rect class="lt" x="1677" y="745" width="215" height="89" rx="4"/><text class="t" y="760"><tspan x="1681.5">本学年，在上级主管部门、园领导的监督管理</tspan><tspan x="1681.5" dy="13.2">下，根据余防号文和余教电传字号文精神，结</tspan><tspan x="1681.5" dy="13.2">合我园实际，坚持“预防为主、防消结合”的方</tspan><tspan x="1681.5" dy="13.2">针，扎扎实实做好消防安全工作，提高师生安</tspan><tspan x="1681.5" dy="13.2">全防范意识，确保全园师生生命财产的安全。</tspan><tspan x="1681.5" dy="13.2">现将本年度消防安全工作汇报如下：</tspan></text></g>
<g id="p2-s1"><rect class="lt" x="1912" y="572" width="196" height="23" rx="4"/><text class="t" x="1916.5" y="587.3">一、高度重视，提高消防安全工作的认识</text></g>
<g id="p2-s1a"><rect class="lt" x="2126" y="552" width="215" height="62.6" rx="4"/><text class="t" y="567"><tspan x="2130.5">幼儿园将消防安全工作放在首位，重视消防安</tspan><tspan x="2130.5" dy="13.2">全宣传教育，经常性地在教师、幼儿中广开展</tspan><tspan x="2130.5" dy="13.2">消防知识的教育活动，提高全园师生安全防范</tspan><tspan x="2130.5" dy="13.2">的意识，做到消防安全警钟长鸣，长抓不懈。</tspan></text></g>
<g id="p2-s2"><rect class="lt" x="1912" y="669" width="123" height="23" rx="4"/><text class="t" x="1916.5" y="684.3">二、加强领导，健全组织</text></g>
<g id="p2-s2a"><rect class="lt" x="2054" y="637" width="215" height="89" rx="4"/><text class="t" y="652"><tspan x="2058.5">为了切实做好消防安全工作，我园建立了以园</tspan><tspan x="2058.5" dy="13.2">长为组长组成的消防安全领导小组，按“谁主</tspan><tspan x="2058.5" dy="13.2">管，谁负责”，“谁在岗，谁负责”的原则，周</tspan><tspan x="2058.5" dy="13.2">密部署了各项消防安全工作，并开好“安全领</tspan><tspan x="2058.5" dy="13.2">导小组会”和全园教职工大会学习了余防号文</tspan><tspan x="2058.5" dy="13.2">和余教电传字号文精神。</tspan></text></g>
<g id="p2-s3"><rect class="lt" x="1912" y="985" width="132" height="23" rx="4"/><text class="t" x="1916.5" y="1000.3">三、扎实开展各项消防工作</text></g>
<g id="p2-s3-1"><rect class="lt" x="2065" y="748" width="215" height="62.6" rx="4"/><text class="t" y="763"><tspan x="2069.5">1、园办公室与内保组共同配合做好了消防安</tspan><tspan x="2069.5" dy="13.2">全知识宣传：出了一期有关消防安全知识的黑</tspan><tspan x="2069.5" dy="13.2">板报；张贴了消防安全教育文字和图片；在校</tspan><tspan x="2069.5" dy="13.2">园网站上刊载了消防安全知识。</tspan></text></g>
<g id="p2-s3-2"><rect class="lt" x="2065" y="834" width="215" height="115.4" rx="4"/><text class="t" y="849"><tspan x="2069.5">2、为增加全园职工的消防意识，我们有目的</tspan><tspan x="2069.5" dy="13.2">邀请市消防支队的工作人员，亲临我园培训并</tspan><tspan x="2069.5" dy="13.2">讲解消防知识和怎样正确操作消防工具等。通</tspan><tspan x="2069.5" dy="13.2">过培训后再次查看园内的消防灭火器是否安全</tspan><tspan x="2069.5" dy="13.2">有效。同时加强对幼儿安全教育，向幼儿宣传</tspan><tspan x="2069.5" dy="13.2">如何应对意外事故的发生，教育幼儿知道怎样</tspan><tspan x="2069.5" dy="13.2">保护自己，学会自救，组织各班进行意外事故</tspan><tspan x="2069.5" dy="13.2">防范的演练。</tspan></text></g>
<g id="p2-s3-3"><rect class="lt" x="2065" y="972" width="215" height="62.6" rx="4"/><text class="t" y="987"><tspan x="2069.5">3、园内保组全面检查了一次园内消防设施和</tspan><tspan x="2069.5" dy="13.2">用电用气情况，对两个过期的消防器材进行了</tspan><tspan x="2069.5" dy="13.2">更新，检查做到了有记录，并在12月10号上</tspan><tspan x="2069.5" dy="13.2">午对全园教职工进行了一次灭火技能培训。</tspan></text></g>
<g id="p2-s3-4"><rect class="lt" x="2065" y="1057" width="215" height="89" rx="4"/><text class="t" y="1072"><tspan x="2069.5">4、加强了对门卫值班管理，门卫设立外来人</tspan><tspan x="2069.5" dy="13.2">员登记本，对于每一位外来人员进园时门卫有</tspan><tspan x="2069.5" dy="13.2">权询问来园原因，问明原因后在外来人员登记</tspan><tspan x="2069.5" dy="13.2">本做记录，不许外来人员自己随便在园内走动</tspan><tspan x="2069.5" dy="13.2">，在假期和晚上做好了校园巡逻工作，确保了</tspan><tspan x="2069.5" dy="13.2">校园安全。</tspan></text></g>
<g id="p2-s3-5"><rect class="lt" x="2065" y="1169" width="215" height="89" rx="4"/><text class="t" y="1184"><tspan x="2069.5">5、园办公室、保教处、内保组共同配合开展</tspan><tspan x="2069.5" dy="13.2">了一次“三个一”的消防安全知识教育活动：各</tspan><tspan x="2069.5" dy="13.2">年级根据不同年龄的幼儿特点上了一堂消防常</tspan><tspan x="2069.5" dy="13.2">识课；举行了两次全园随机性的灭火逃生自救</tspan><tspan x="2069.5" dy="13.2">演习；给幼儿家长写了一封有关消防安全的监</tspan><tspan x="2069.5" dy="13.2">督信。</tspan></text></g>
<g id="p2-s3-5a"><rect class="lt" x="2300" y="1188" width="215" height="49.4" rx="4"/><text class="t" y="1203"><tspan x="2304.5">以上是我园冬季消防安全工作小结，由于我园</tspan><tspan x="2304.5" dy="13.2">领导与教职工密切配合，各项工作都进展的很</tspan><tspan x="2304.5" dy="13.2">顺利，从而确保了校园师生安全。</tspan></text></g>

<!-- ===== 篇4 ===== -->
<g id="p4"><rect class="po" x="1436" y="1513" width="220" height="30" rx="15"/><text class="pl" x="1546" y="1532.5">幼儿园消防安全自查报告【篇4】</text></g>
<g id="p4-a"><rect class="lc" x="1677" y="1280" width="215" height="89" rx="4"/><text class="t" y="1295"><tspan x="1681.5">幼儿园对全园的灭火器进行全面检查，对过期</tspan><tspan x="1681.5" dy="13.2">和报废的灭火器进行处理，并及时更换了一批</tspan><tspan x="1681.5" dy="13.2">符合国家标准的灭火器。要求教师提高责任意</tspan><tspan x="1681.5" dy="13.2">识，增强安全常识，切实认识到幼儿安全工作</tspan><tspan x="1681.5" dy="13.2">的重要性，保证把孩子教育好，管理好，保护</tspan><tspan x="1681.5" dy="13.2">好。</tspan></text></g>
<g id="p4-s1"><rect class="lc" x="1677" y="1425" width="215" height="23" rx="4"/><text class="t" x="1681.5" y="1440.3">一、认真做好各项检查，填写好消防安全记录</text></g>
<g id="p4-s1a"><rect class="lc" x="1912" y="1392" width="214" height="89" rx="4"/><text class="t" y="1407"><tspan x="1916.5">根据上级消防安全指示精神，我园开展了每日</tspan><tspan x="1916.5" dy="13.2">一小检查、每周大检查、每月一总结的方法，</tspan><tspan x="1916.5" dy="13.2">针对幼儿园各项设施进行全面的安全大检查，</tspan><tspan x="1916.5" dy="13.2">同时，我们对检查的结果进行记录，并要求同</tspan><tspan x="1916.5" dy="13.2">查人员一起认真填写排查记录。真正做到心中</tspan><tspan x="1916.5" dy="13.2">有数，消灭死角，杜绝各种隐患。</tspan></text></g>
<g id="p4-s2"><rect class="lc" x="1677" y="1721" width="132" height="23" rx="4"/><text class="t" x="1681.5" y="1736.3">二、消防安全宣传教育工作</text></g>
<g id="p4-s2-1"><rect class="lc" x="1831" y="1504" width="214" height="168.2" rx="4"/><text class="t" y="1519"><tspan x="1835.5">1、我园将消防安全纳入一日教学内容，每学</tspan><tspan x="1835.5" dy="13.2">期都开展消防安全主题活动，通过主题活动加</tspan><tspan x="1835.5" dy="13.2">强教师和幼儿的消防安全知识，同时还开展了</tspan><tspan x="1835.5" dy="13.2">“消防安全演练”活动，在活动中让教师和幼儿</tspan><tspan x="1835.5" dy="13.2">知道当火灾发时如何自救、如何逃生。如《1</tspan><tspan x="1835.5" dy="13.2">19防火日的由来》《发生火灾怎么办?》《危</tspan><tspan x="1835.5" dy="13.2">险的东西我不碰》《消防知识问答赛》等活动</tspan><tspan x="1835.5" dy="13.2">。园领导和教师们还组织幼儿进行了实战的消</tspan><tspan x="1835.5" dy="13.2">防演习 ——“逃生”，小朋友在教师们的组织</tspan><tspan x="1835.5" dy="13.2">下从各个通道进行“逃生”，教师们在组织“逃</tspan><tspan x="1835.5" dy="13.2">生”过程中，提醒幼儿用毛巾捂住嘴巴，弯腰</tspan><tspan x="1835.5" dy="13.2">低头快速下楼梯，到操场上的安全地带。</tspan></text></g>
<g id="p4-s2-2"><rect class="lc" x="1831" y="1696" width="214" height="115.4" rx="4"/><text class="t" y="1711"><tspan x="1835.5">2、我园以班级为单位，建立消防安全宣传教</tspan><tspan x="1835.5" dy="13.2">育活动室，为幼儿播放《火灾预防与自救》的</tspan><tspan x="1835.5" dy="13.2">光碟，老师还把防火安全知识纳入常规教学中</tspan><tspan x="1835.5" dy="13.2">，向幼儿宣传消防安全知识。同时，请消防大</tspan><tspan x="1835.5" dy="13.2">队的消防员进行现场灭火器材演练，提高了大</tspan><tspan x="1835.5" dy="13.2">家应对突发事件的应变能力，并增强了消防安</tspan><tspan x="1835.5" dy="13.2">全意识，同时掌握了一般灭火器材的操作使用</tspan><tspan x="1835.5" dy="13.2">步骤及方法。</tspan></text></g>
<g id="p4-s2-3"><rect class="lc" x="1831" y="1853" width="214" height="49.4" rx="4"/><text class="t" y="1868"><tspan x="1835.5">3、我园每学期还对全体教师进行一次消防安</tspan><tspan x="1835.5" dy="13.2">全知识培训，让全体教师加深对消防安全知识</tspan><tspan x="1835.5" dy="13.2">的掌握。</tspan></text></g>
<g id="p4-s2-3a"><rect class="lc" x="2065" y="1833" width="215" height="89" rx="4"/><text class="t" y="1848"><tspan x="2069.5">今后，我园将继续加强安全教育并渗透到一日</tspan><tspan x="2069.5" dy="13.2">生活中，常抓不懈。本着多一份防份危险，尽</tspan><tspan x="2069.5" dy="13.2">心尽力，尽心尽职抓好安全教育，提高孩子应</tspan><tspan x="2069.5" dy="13.2">对突发事件的生存能力和增强孩子自我保护意</tspan><tspan x="2069.5" dy="13.2">识，为孩子的健康成长，创造安全的教育环境</tspan><tspan x="2069.5" dy="13.2">。</tspan></text></g>

<!-- ===== 篇6 ===== -->
<g id="p6"><rect class="pt" x="1436" y="2264" width="220" height="30" rx="15"/><text class="pl" x="1546" y="2283.5">幼儿园消防安全自查报告【篇6】</text></g>
<g id="p6-intro"><rect class="lt" x="1677" y="1944" width="215" height="128.6" rx="4"/><text class="t" y="1959"><tspan x="1681.5">近期，发生在各个地方的多起火灾给每一个人</tspan><tspan x="1681.5" dy="13.2">敲响了警钟。施工现场本身就是火灾的多发地</tspan><tspan x="1681.5" dy="13.2">点，特别是北方的气候环境所影响。所以我们</tspan><tspan x="1681.5" dy="13.2">更应该提高警惕，增强消防安全意识。本次消</tspan><tspan x="1681.5" dy="13.2">防安全自检自查活动是按照洮南市消防部门有</tspan><tspan x="1681.5" dy="13.2">关会议和文件精神，同时也为了杜绝和减少火</tspan><tspan x="1681.5" dy="13.2">灾发生及尽量避免人民群众生命财产和物资的</tspan><tspan x="1681.5" dy="13.2">损失，认真自上而下地开展工作，现将工作情</tspan><tspan x="1681.5" dy="13.2">况自检自评如下：</tspan></text></g>
<g id="p6-s1"><rect class="lt" x="1912" y="1997" width="123" height="23" rx="4"/><text class="t" x="1916.5" y="2012.3">一、消防安全管理工作：</text></g>
<g id="p6-s1a"><rect class="lt" x="2054" y="1997" width="128" height="23" rx="4"/><text class="t" x="2058.5" y="2012.3">1、建立、健全了组织机构</text></g>
<g id="p6-r1"><rect class="lt" x="1677" y="2095" width="91" height="23" rx="4"/><text class="t" x="1681.5" y="2110.3">消防安全责任人：</text></g>
<g id="p6-r2"><rect class="lt" x="1677" y="2190" width="91" height="23" rx="4"/><text class="t" x="1681.5" y="2205.3">消防安全管理人：</text></g>
<g id="p6-r2-1"><rect class="lt" x="1789" y="2154" width="106" height="23" rx="4"/><text class="t" x="1793.5" y="2169.3">2、落实了安全责任制</text></g>
<g id="p6-r2-1a"><rect class="lt" x="1917" y="2141" width="215" height="49.4" rx="4"/><text class="t" y="2156"><tspan x="1921.5">制定了各岗位消防安全职责，明确了施工现场</tspan><tspan x="1921.5" dy="13.2">消防安全小组成员的分工，并作出消防演习的</tspan><tspan x="1921.5" dy="13.2">计划。</tspan></text></g>
<g id="p6-r2-2"><rect class="lt" x="1789" y="2213" width="215" height="49.4" rx="4"/><text class="t" y="2228"><tspan x="1793.5">3、制定了工人生活区和项目管理人员办公区</tspan><tspan x="1793.5" dy="13.2">的安全管理制度，消灭了一些在生活用电过程</tspan><tspan x="1793.5" dy="13.2">中存在的隐患。</tspan></text></g>
<g id="p6-r2-2a"><rect class="lt" x="2024" y="2227" width="132" height="23" rx="4"/><text class="t" x="2028.5" y="2242.3">二、认真做好现场各项检查</text></g>
<g id="p6-c"><rect class="lt" x="1677" y="2499" width="215" height="102.2" rx="4"/><text class="t" y="2514"><tspan x="1681.5">根据县消防部门的精神，我项目部开展了消防</tspan><tspan x="1681.5" dy="13.2">安全工作每日一小查、每周大查、每月一总结</tspan><tspan x="1681.5" dy="13.2">的方法，针对施工现场的各项设施进行全面的</tspan><tspan x="1681.5" dy="13.2">安全大检查。同时，我们对检查的结果进行了</tspan><tspan x="1681.5" dy="13.2">分析，并要求同查人员一起认真开会总结。真</tspan><tspan x="1681.5" dy="13.2">正做到心中有数，消灭死角，杜绝各种隐患。</tspan><tspan x="1681.5" dy="13.2">具体检查内容有以下几大项：</tspan></text></g>
<g id="p6-c1"><rect class="lt" x="1912" y="2285" width="214" height="36.2" rx="4"/><text class="t" y="2300"><tspan x="1916.5">1、施工现场的消防通道、安全出口等的设置</tspan><tspan x="1916.5" dy="13.2">是否符合规定;</tspan></text></g>
<g id="p6-c2"><rect class="lt" x="1912" y="2344" width="214" height="36.2" rx="4"/><text class="t" y="2359"><tspan x="1916.5">2、消火栓、消防水管等消防设施设置、运行</tspan><tspan x="1916.5" dy="13.2">及灭火器材配置是否符合规定;</tspan></text></g>
<g id="p6-c3"><rect class="lt" x="1912" y="2402" width="214" height="36.2" rx="4"/><text class="t" y="2417"><tspan x="1916.5">3、施工现场的电气线路敷设以及电气设备运</tspan><tspan x="1916.5" dy="13.2">行是否符合规定;</tspan></text></g>
<g id="p6-c4"><rect class="lt" x="1912" y="2462" width="214" height="36.2" rx="4"/><text class="t" y="2477"><tspan x="1916.5">4、施工现场的室内装饰装修材料防火性能是</tspan><tspan x="1916.5" dy="13.2">否符合进场规定;</tspan></text></g>
<g id="p6-c5"><rect class="lt" x="1912" y="2520" width="214" height="36.2" rx="4"/><text class="t" y="2535"><tspan x="1916.5">5、施工现场的工人作业情况是否存在消防安</tspan><tspan x="1916.5" dy="13.2">全隐患</tspan></text></g>
<g id="p6-c5a"><rect class="lt" x="2148" y="2527" width="142" height="23" rx="4"/><text class="t" x="2152.5" y="2542.3">三、消防安全宣传教育工作：</text></g>
<g id="p6-e1"><rect class="lt" x="1912" y="2578" width="214" height="49.4" rx="4"/><text class="t" y="2593"><tspan x="1916.5">1、我项目部将消防安全纳入工人三级安全教</tspan><tspan x="1916.5" dy="13.2">育的必讲内容，每月都开展安全教育活动，通</tspan><tspan x="1916.5" dy="13.2">过安全教育来加强工人的的消防安全知识。</tspan></text></g>
<g id="p6-e2"><rect class="lt" x="1912" y="2651" width="214" height="49.4" rx="4"/><text class="t" y="2666"><tspan x="1916.5">2、我项目部还在施工现场消防重点部位进行</tspan><tspan x="1916.5" dy="13.2">了登记，并设立明显标识，随时提醒工人注意</tspan><tspan x="1916.5" dy="13.2">消防安全。</tspan></text></g>
<g id="p6-e3"><rect class="lt" x="1912" y="2772" width="214" height="49.4" rx="4"/><text class="t" y="2787"><tspan x="1916.5">3、开展了“消防演练”活动，在活动中让施工</tspan><tspan x="1916.5" dy="13.2">人员知道如果发生火灾的时候应该如何进行自</tspan><tspan x="1916.5" dy="13.2">救。</tspan></text></g>
<g id="p6-e3a"><rect class="lt" x="2148" y="2723" width="214" height="62.6" rx="4"/><text class="t" y="2738"><tspan x="2152.5">经过这一个月的努力，我项目部消防安全工作</tspan><tspan x="2152.5" dy="13.2">初见成效，经过消防部门的几次检查，我们也</tspan><tspan x="2152.5" dy="13.2">发现几处隐患，我项目部及时进行了整改，并</tspan><tspan x="2152.5" dy="13.2">得到了消防部门的认可。</tspan></text></g>
<g id="p6-e3b"><rect class="lt" x="2148" y="2808" width="214" height="62.6" rx="4"/><text class="t" y="2823"><tspan x="2152.5">当然，在今后的工作中，我们会继续努力，加</tspan><tspan x="2152.5" dy="13.2">强宣传工作力度，提高工人消防意识；定期、</tspan><tspan x="2152.5" dy="13.2">不定期认真开展好防火值班安全检查，让施工</tspan><tspan x="2152.5" dy="13.2">现场永远杜绝火灾的发生。</tspan></text></g>

<!-- ===== 篇8 ===== -->
<g id="p8"><rect class="po" x="1436" y="3295" width="220" height="30" rx="15"/><text class="pl" x="1546" y="3314.5">幼儿园消防安全自查报告【篇8】</text></g>
<g id="p8-a"><rect class="lc" x="1677" y="2893" width="206" height="23" rx="4"/><text class="t" x="1681.5" y="2908.3">平阳项目部25标消防安全自纠自查情况汇报</text></g>
<g id="p8-b"><rect class="lc" x="1677" y="2938" width="215" height="102.2" rx="4"/><text class="t" y="2953"><tspan x="1681.5">4月16日上午，我项目部召开紧急会议部署消</tspan><tspan x="1681.5" dy="13.2">防安全自纠自查工作，项目经理郭满红主持了</tspan><tspan x="1681.5" dy="13.2">会议，总工林富春、副经理宋利军、安全部部</tspan><tspan x="1681.5" dy="13.2">长刘贵平以及工程部、质检部、材机部等各部</tspan><tspan x="1681.5" dy="13.2">门领导和主要人员一同参加。郭经理在安排消</tspan><tspan x="1681.5" dy="13.2">防安全自纠自查工作时强调，要建立消防安全</tspan><tspan x="1681.5" dy="13.2">及应急长效机制。</tspan></text></g>
<g id="p8-s1"><rect class="lc" x="1677" y="3110" width="204" height="23" rx="4"/><text class="t" x="1681.5" y="3125.3">一、高度重视，把安全隐患消灭在发生之前</text></g>
<g id="p8-s1a"><rect class="lc" x="1903" y="3063" width="214" height="115.4" rx="4"/><text class="t" y="3078"><tspan x="1907.5">各部门、各工区要高度重视，加强组织领导，</tspan><tspan x="1907.5" dy="13.2">要以“施工安全重于泰山，人民生命财产高于</tspan><tspan x="1907.5" dy="13.2">一切”的责任感，狠抓安全工作的落实。项目</tspan><tspan x="1907.5" dy="13.2">经理亲自率队开展检查，切实细化安全责任，</tspan><tspan x="1907.5" dy="13.2">层层分解职责、明确标准规范，真正做到把消</tspan><tspan x="1907.5" dy="13.2">防安全责任督促落实到每个岗位、每个工作环</tspan><tspan x="1907.5" dy="13.2">节、每个责任人员，把安全隐患解决和消灭在</tspan><tspan x="1907.5" dy="13.2">发生之前，确保施工安全万无一失。</tspan></text></g>
<g id="p8-s2"><rect class="lc" x="1677" y="3248" width="154" height="23" rx="4"/><text class="t" x="1681.5" y="3263.3">二、监管到位，将安全落到实处</text></g>
<g id="p8-s2a"><rect class="lc" x="1851" y="3202" width="214" height="115.4" rx="4"/><text class="t" y="3217"><tspan x="1855.5">各部门、各工区要强化管理，加大监管力度，</tspan><tspan x="1855.5" dy="13.2">安全部门要切实加强安全监管，严格执行安全</tspan><tspan x="1855.5" dy="13.2">责任管理制度，确定消防安全监管的主管领导</tspan><tspan x="1855.5" dy="13.2">、具体负责人、专门工作机构和人员，落实消</tspan><tspan x="1855.5" dy="13.2">防安全监督队伍，把消防安全生产监管工作职</tspan><tspan x="1855.5" dy="13.2">责和任务落到实处。采取多种方式进行检查、</tspan><tspan x="1855.5" dy="13.2">抽查，对工作未落实的部门要进行通报，并追</tspan><tspan x="1855.5" dy="13.2">究相关责任人责任。</tspan></text></g>
<g id="p8-s3"><rect class="lc" x="1677" y="3418" width="163" height="23" rx="4"/><text class="t" x="1681.5" y="3433.3">三、安全检查、发现问题就地整改</text></g>
<g id="p8-s3a"><rect class="lc" x="1861" y="3339" width="214" height="62.6" rx="4"/><text class="t" y="3354"><tspan x="1865.5">各工区迅速开展了消防安全自查，自查重点是</tspan><tspan x="1865.5" dy="13.2">施工现场、拌和站、易燃易爆物品及设备设施</tspan><tspan x="1865.5" dy="13.2">、油库等重点部位，所有办公场所、职工食堂</tspan><tspan x="1865.5" dy="13.2">、宿舍，防患于未然。</tspan></text></g>
<g id="p8-s3b"><rect class="lc" x="1861" y="3424" width="214" height="128.6" rx="4"/><text class="t" y="3439"><tspan x="1865.5">自查自纠的内容主要集中在消防及安全制度、</tspan><tspan x="1865.5" dy="13.2">规范是否健全，安全管理和检查记录是否完整</tspan><tspan x="1865.5" dy="13.2">，消防通道是否畅通，消防设施是否完好有效</tspan><tspan x="1865.5" dy="13.2">，日常用火用电是否存在火灾隐患，重点岗位</tspan><tspan x="1865.5" dy="13.2">工作人员是否经过消防及安全培训，查找各类</tspan><tspan x="1865.5" dy="13.2">安全薄弱环节，不足的整改，自4月16日开始</tspan><tspan x="1865.5" dy="13.2">至4月18日结束。检查中发现的问题马上进行</tspan><tspan x="1865.5" dy="13.2">了整改，直至符合要求；问题不能短期解决的</tspan><tspan x="1865.5" dy="13.2">，严看死守；存在重大隐患的，立即停止。</tspan></text></g>
<g id="p8-s4"><rect class="lc" x="1677" y="3597" width="204" height="23" rx="4"/><text class="t" x="1681.5" y="3612.3">四、重点投入，主要场站增强配备专人看管</text></g>
<g id="p8-s4a"><rect class="lc" x="1903" y="3577" width="214" height="62.6" rx="4"/><text class="t" y="3592"><tspan x="1907.5">针对各工区施工现场及油库和拌和站等重点消</tspan><tspan x="1907.5" dy="13.2">防部位加大安全防范投入，充实抢险队伍、增</tspan><tspan x="1907.5" dy="13.2">强抢险设备，明确专人负责，建立消防安全及</tspan><tspan x="1907.5" dy="13.2">应急长效工作机制。</tspan></text></g>
<g id="p8-s5"><rect class="lc" x="1677" y="3705" width="51" height="23" rx="4"/><text class="t" x="1681.5" y="3720.3">五、其它</text></g>
<g id="p8-s5a"><rect class="lc" x="1748" y="3662" width="214" height="49.4" rx="4"/><text class="t" y="3677"><tspan x="1752.5">我项目部承建施工路段（K109+300~K118+</tspan><tspan x="1752.5" dy="13.2">000）因没有隧道和石方爆炸作业，所以不涉</tspan><tspan x="1752.5" dy="13.2">及民爆物品的安全自纠自查情况。</tspan></text></g>
<g id="p8-s5b"><rect class="lc" x="1748" y="3733" width="152" height="23" rx="4"/><text class="t" x="1752.5" y="3748.3">朔州路桥平阳路基二十五合同段</text></g>
</svg>
